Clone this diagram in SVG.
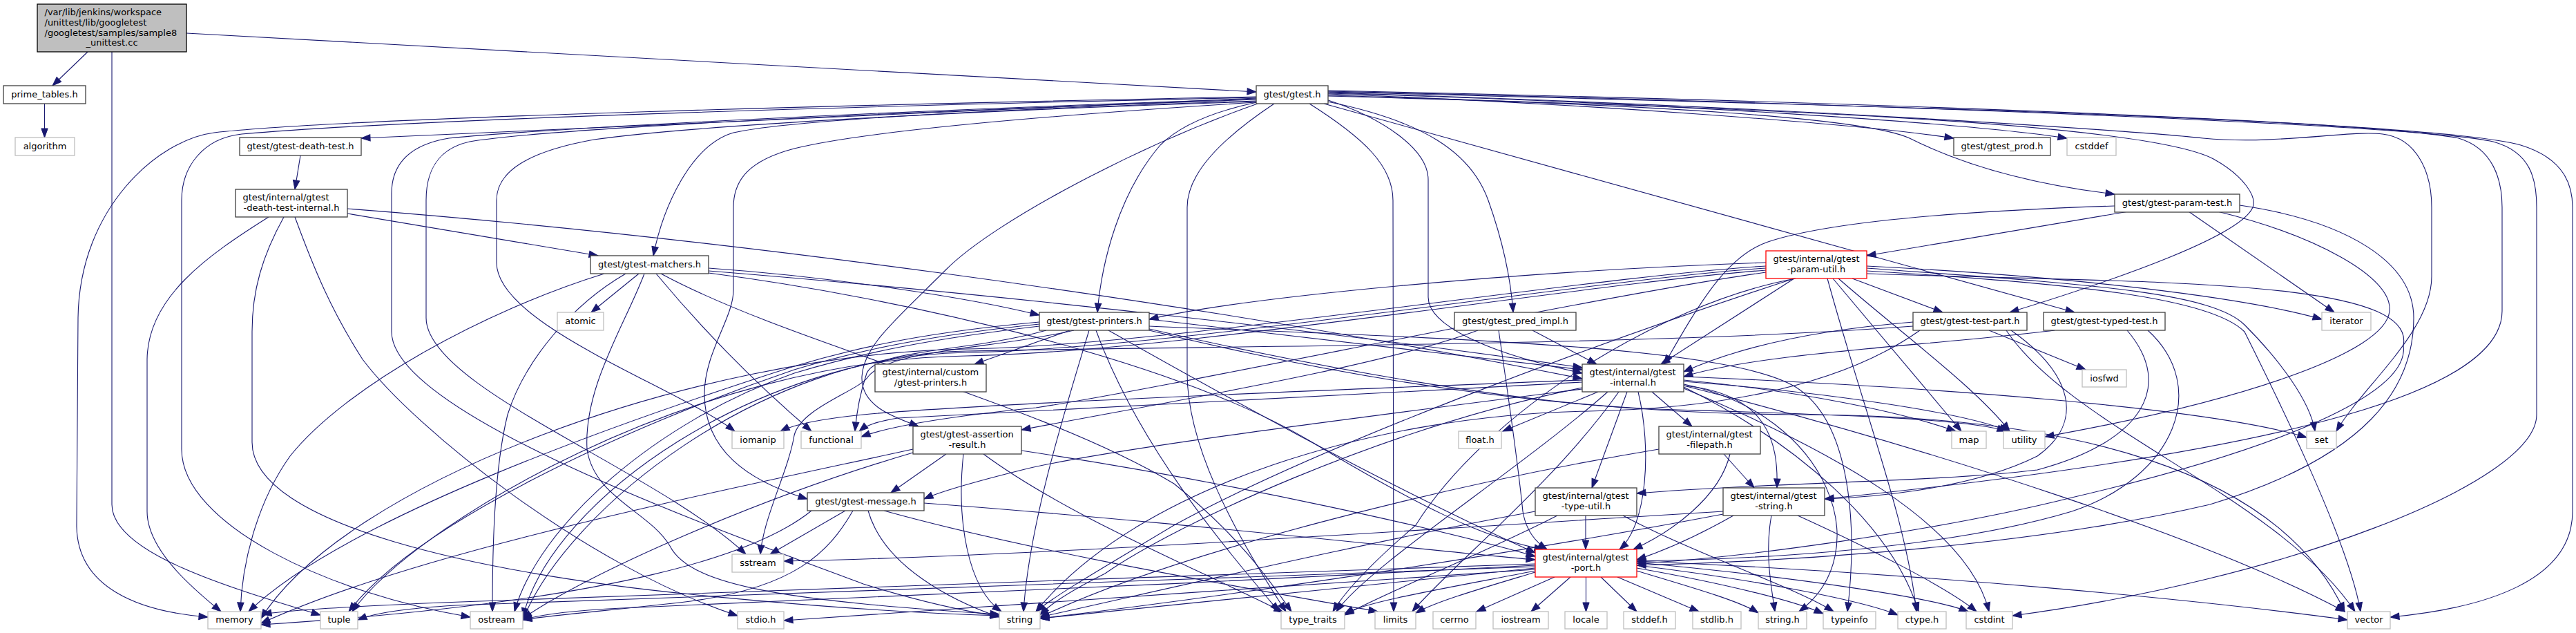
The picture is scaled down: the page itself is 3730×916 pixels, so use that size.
<svg xmlns="http://www.w3.org/2000/svg" width="3730" height="916" viewBox="0 0 3730 916">
<style>
.e path{fill:none;stroke:#191970;stroke-width:1.1}
rect{fill:#fff;stroke:#404040;stroke-width:1.3}
.g rect{stroke:#bfbfbf}
.r rect{stroke:#ff0000}
.m rect{fill:#bfbfbf;stroke:#000}
text{font-family:"DejaVu Sans","Liberation Sans",sans-serif;font-size:13px;fill:#000;text-anchor:middle}
text.l{text-anchor:start}
</style>
<defs>
<marker id="a" markerUnits="userSpaceOnUse" markerWidth="14" markerHeight="10" refX="13" refY="5" orient="auto" overflow="visible"><path d="M0,0.3 L13,5 L0,9.7 z" fill="#191970" stroke="#191970" stroke-width="1"/></marker>
</defs>
<rect x="0" y="0" width="3730" height="916" style="fill:#fff;stroke:none"/>
<g id="edges" class="e" marker-end="url(#a)">
<path d="M127,75 L76,124"/>
<path d="M270,48 L1819,133"/>
<path d="M162,75 L162,730 C162,800 330,850 464,890"/>
<path d="M64.5,150 L64.5,199"/>
<path d="M1819,140 C1300,150 500,170 310,192 C230,202 115,300 113,460 L111,760 C111,850 200,885 301,893"/>
<path d="M1819,141 C1300,152 600,172 350,194 C295,200 263,240 263,290 L263,650 C263,760 480,860 681,893"/>
<path d="M1819,142 L523,200"/>
<path d="M1819,143 C1300,160 800,185 650,200 C590,210 567,240 567,280 L567,480 C567,600 1050,770 1250,845 C1330,870 1400,885 1447,892"/>
<path d="M1819,144 C1300,162 800,185 680,205 C635,215 617,245 617,290 L617,460 C617,560 950,680 1080,802"/>
<path d="M1819,146 C1500,156 1150,172 1062,192 C1000,210 960,300 946,370"/>
<path d="M1819,147 C1400,160 1000,182 860,202 C760,220 719,250 719,290 L719,380 C719,470 980,560 1064,624"/>
<path d="M1819,148 C1500,168 1250,190 1150,215 C1085,232 1062,260 1062,300 L1062,420 C1062,460 1020,510 1020,570 C1020,650 1080,695 1169,722"/>
<path d="M1821,150 C1650,210 1440,320 1370,390 C1300,460 1250,500 1248,545 C1246,590 1300,605 1330,617"/>
<path d="M1820,148 C1740,165 1700,190 1680,210 C1620,280 1595,380 1589,452"/>
<path d="M1845,150 C1770,200 1719,250 1719,300 L1719,540 C1719,640 1780,760 1862,885"/>
<path d="M1896,150 C1975,200 2017,240 2017,290 L2018,885"/>
<path d="M1923,145 C2000,170 2068,215 2068,260 L2068,430 C2068,470 2150,510 2291,540"/>
<path d="M1922,147 C2060,175 2130,220 2155,290 C2180,360 2188,410 2191,452"/>
<path d="M1917,150 L3004,452"/>
<path d="M1923,136 C2300,150 2700,180 2829,200"/>
<path d="M1923,135 C2400,148 2850,178 2993,200"/>
<path d="M1923,138 C2400,152 2700,170 2765,200 C2805,220 2900,262 3062,281"/>
<path d="M1923,139 C2500,155 3100,175 3205,230 C3250,255 3268,285 3262,300 C3245,340 3080,400 2910,452"/>
<path d="M1923,134 C2600,155 3100,190 3190,200 C3300,210 3400,188 3450,194 C3500,200 3521,250 3521,300 L3521,400 C3521,480 3420,560 3383,624"/>
<path d="M1923,133 C2600,150 3400,170 3560,200 C3610,215 3623,260 3623,300 L3623,450 C3623,560 3350,650 2642,722"/>
<path d="M1923,132 C2700,150 3500,180 3610,205 C3665,220 3673,260 3673,300 L3673,600 C3673,700 3300,840 2914,891"/>
<path d="M1923,131 C2800,150 3550,180 3650,210 C3715,230 3725,270 3725,300 L3725,740 C3725,840 3600,880 3461,893"/>
<path d="M435,225 L427,274"/>
<path d="M503,309 L866,370"/>
<path d="M503,302 C1000,340 1700,430 2291,548"/>
<path d="M389,314 C300,370 214,430 213,520 L213,740 C213,800 290,860 320,885"/>
<path d="M411,314 C380,370 365,420 365,480 L365,640 C365,760 700,830 1000,860 C1200,880 1350,888 1447,891"/>
<path d="M427,314 C455,390 480,450 525,520 C600,620 850,820 1068,891"/>
<path d="M875,396 C700,450 500,560 420,660 C370,730 350,820 348,885"/>
<path d="M906,396 C830,440 760,520 735,600 C715,680 713,800 713,885"/>
<path d="M925,396 L856,452"/>
<path d="M933,396 C905,470 845,560 850,650 C860,720 940,740 970,790 C1000,850 1150,870 1447,889"/>
<path d="M950,396 C1020,480 1100,560 1175,624"/>
<path d="M957,396 C1150,500 1500,580 1700,700 C1800,780 1845,850 1870,885"/>
<path d="M1026,388 C1200,400 1400,430 1505,456"/>
<path d="M1026,392 C1500,430 2000,490 2291,532"/>
<path d="M1026,395 C1300,430 1700,520 1900,640 C2050,730 2150,780 2235,795"/>
<path d="M1549,478 L1411,527"/>
<path d="M1505,466 C1350,480 1250,500 1150,530 C900,610 500,750 360,885"/>
<path d="M1505,469 C1350,485 1250,505 1150,535 C900,620 600,760 505,885"/>
<path d="M1505,472 C1350,490 1250,510 1150,540 C950,610 780,760 745,885"/>
<path d="M1515,478 C1400,510 1270,505 1255,540 C1245,570 1240,600 1238,624"/>
<path d="M1555,478 C1440,505 1290,505 1257,545 C1245,565 1160,590 1150,630 C1142,680 1105,750 1101,802"/>
<path d="M1577,478 C1540,600 1490,760 1482,885"/>
<path d="M1587,478 C1650,650 1780,800 1852,885"/>
<path d="M1664,472 C2100,490 2500,500 2600,560 C2680,610 2690,760 2675,885"/>
<path d="M1664,476 C1900,530 2200,585 2400,592 C2650,600 2850,605 2905,624"/>
<path d="M1664,478 C2000,560 2300,598 2600,600 C3000,600 3300,680 3395,885"/>
<path d="M1664,462 L2291,535"/>
<path d="M1605,478 C1750,560 2000,700 2223,800"/>
<path d="M2140,478 C2000,530 1700,580 1479,622"/>
<path d="M2219,478 L2312,527"/>
<path d="M2170,478 C2185,580 2200,690 2205,740 C2210,770 2225,785 2240,795"/>
<path d="M3062,298 C2850,305 2650,320 2560,350 C2500,370 2460,440 2410,527"/>
<path d="M3082,306 L2703,370"/>
<path d="M3169,306 L3380,452"/>
<path d="M3211,306 C3350,340 3465,400 3460,450 C3455,510 3250,580 2961,632"/>
<path d="M3243,297 C3400,320 3495,380 3495,460 C3495,560 3430,660 3200,730 C2900,800 2500,815 2370,818"/>
<path d="M2557,380 C2200,392 1800,430 1664,462"/>
<path d="M2557,385 C2300,400 1700,500 1400,505 C1000,512 500,700 378,895"/>
<path d="M2557,388 C2300,405 1700,505 1400,510 C1100,515 800,720 757,893"/>
<path d="M2557,391 C2300,410 1700,510 1400,515 C1000,520 600,760 510,885"/>
<path d="M2557,394 C2300,430 1700,560 1500,590 C1350,605 1280,620 1247,632"/>
<path d="M2598,403 C2300,500 1900,650 1700,760 C1600,820 1530,860 1500,885"/>
<path d="M2600,403 C2400,440 2150,600 2050,760 C1980,820 1945,860 1930,885"/>
<path d="M2654,403 L2840,624"/>
<path d="M2662,403 C2750,480 2860,560 2910,624"/>
<path d="M2646,403 C2700,600 2760,750 2775,885"/>
<path d="M2682,403 L2813,452"/>
<path d="M2703,385 C3000,400 3250,430 3362,462"/>
<path d="M2703,388 C3000,410 3200,420 3250,470 C3300,520 3345,580 3352,624"/>
<path d="M2703,392 C3000,410 3200,430 3250,480 C3290,560 3400,780 3418,885"/>
<path d="M2598,403 L2405,527"/>
<path d="M2703,396 C3100,410 3500,400 3480,500 C3490,570 3300,650 3000,720 C2800,770 2500,810 2370,815"/>
<path d="M2770,466 C2600,480 2500,510 2438,538"/>
<path d="M2770,472 C2400,500 1800,500 1400,508 C1100,512 820,740 757,897"/>
<path d="M2780,478 C2650,570 2450,592 2300,595 C2000,600 1650,700 1500,885"/>
<path d="M2880,478 L3020,535"/>
<path d="M2905,478 C3000,620 3300,720 3410,885"/>
<path d="M2912,478 C3000,540 3020,610 2950,660 C2850,710 2700,720 2642,722"/>
<path d="M2975,478 C2800,500 2550,510 2438,545"/>
<path d="M3080,478 C3150,560 3100,640 2950,680 C2800,698 2560,698 2370,714"/>
<path d="M3110,478 C3200,560 3150,690 3000,740 C2800,800 2500,810 2370,812"/>
<path d="M2314,567 L2176,624"/>
<path d="M2356,567 L2305,706"/>
<path d="M2372,567 C2392,650 2385,760 2345,795"/>
<path d="M2392,567 L2450,617"/>
<path d="M2344,567 C2250,700 2100,820 2045,885"/>
<path d="M2328,567 C2200,680 1980,820 1935,885"/>
<path d="M2291,561 C2000,620 1700,760 1600,830 C1540,860 1515,880 1506,890"/>
<path d="M2291,550 C1900,565 1400,585 1250,600 C1190,606 1150,614 1130,624"/>
<path d="M2291,553 C1900,575 1450,595 1300,605 C1270,610 1255,615 1244,624"/>
<path d="M2291,563 C2000,600 1600,650 1480,680 C1400,700 1360,712 1338,722"/>
<path d="M2438,556 C2650,600 2720,800 2605,885"/>
<path d="M2438,560 C2600,640 2740,760 2778,885"/>
<path d="M2438,562 C2650,650 2850,760 2880,885"/>
<path d="M2438,550 C2600,565 2750,595 2832,624"/>
<path d="M2438,552 C2650,568 2850,598 2908,624"/>
<path d="M2438,545 C2800,560 3200,590 3340,633"/>
<path d="M2438,558 C2800,650 3200,780 3395,885"/>
<path d="M2438,558 C2560,570 2575,640 2573,706"/>
<path d="M1370,657 L1290,713"/>
<path d="M1322,650 C1000,720 600,800 378,902"/>
<path d="M1322,655 C1100,720 850,830 757,895"/>
<path d="M1395,657 C1385,750 1400,850 1450,885"/>
<path d="M1424,657 C1550,750 1750,830 1858,886"/>
<path d="M1479,652 C1800,700 2100,770 2223,805"/>
<path d="M2402,650 C2100,700 1700,800 1506,893"/>
<path d="M2505,657 C2490,720 2420,770 2365,795"/>
<path d="M2496,657 L2540,706"/>
<path d="M1224,739 L1115,802"/>
<path d="M1175,739 C1100,800 900,870 378,904"/>
<path d="M1235,739 C1200,800 1150,850 1000,870 C900,882 800,890 757,897"/>
<path d="M1257,739 C1280,820 1380,870 1447,893"/>
<path d="M1280,739 C1500,800 1800,850 1995,885"/>
<path d="M1338,728 C1700,755 2000,790 2223,810"/>
<path d="M2296,746 L2296,795"/>
<path d="M2223,740 C2000,780 1700,850 1506,893"/>
<path d="M2255,746 C2150,800 2000,860 1947,890"/>
<path d="M2350,746 C2450,800 2600,850 2655,885"/>
<path d="M2565,746 C2555,800 2565,850 2570,885"/>
<path d="M2603,746 C2700,790 2820,850 2862,885"/>
<path d="M2495,740 C2000,770 1500,805 1135,812"/>
<path d="M2495,744 C2200,800 1800,860 1506,895"/>
<path d="M2510,746 C2450,780 2400,800 2370,810"/>
<path d="M2251,835 L2138,885"/>
<path d="M2274,835 L2217,885"/>
<path d="M2296.5,835 L2296.5,885"/>
<path d="M2318,835 L2370,885"/>
<path d="M2342,835 L2460,885"/>
<path d="M2223,828 C2150,850 2080,870 2050,887"/>
<path d="M2223,826 C2100,850 1980,870 1947,888"/>
<path d="M2223,822 C2000,845 1700,875 1506,895"/>
<path d="M2223,818 C1800,840 1200,870 900,880 C820,884 780,890 757,897"/>
<path d="M2223,816 C1700,835 900,860 640,872 C520,877 420,882 380,889"/>
<path d="M2223,820 C1700,840 900,865 660,876 C590,880 540,888 518,897"/>
<path d="M2223,824 C1900,845 1400,880 1135,898"/>
<path d="M2370,826 C2450,850 2520,870 2546,887"/>
<path d="M2370,822 C2500,845 2600,870 2640,888"/>
<path d="M2370,818 C2550,840 2700,870 2748,890"/>
<path d="M2370,814 C2600,835 2800,865 2850,885"/>
<path d="M2370,812 C2800,830 3200,870 3399,897"/>
</g>
<g id="node-main" class="m"><rect x="54" y="6" width="216" height="69"/><text class="l" x="64.5" y="22">/var/lib/jenkins/workspace</text><text class="l" x="64.5" y="37">/unittest/lib/googletest</text><text class="l" x="64.5" y="51.5">/googletest/samples/sample8</text><text x="162" y="66">_unittest.cc</text></g>
<g id="node-prime_tables"><rect x="5" y="124" width="119" height="26"/><text x="64.5" y="141">prime_tables.h</text></g>
<g id="node-algorithm" class="g"><rect x="22" y="199" width="86" height="26"/><text x="65" y="216">algorithm</text></g>
<g id="node-gtest"><rect x="1819" y="124" width="104" height="26"/><text x="1871" y="141">gtest/gtest.h</text></g>
<g id="node-death-test"><rect x="347" y="199" width="176" height="26"/><text x="435" y="216">gtest/gtest-death-test.h</text></g>
<g id="node-death-test-internal"><rect x="341" y="274" width="162" height="40"/><text class="l" x="351.5" y="290">gtest/internal/gtest</text><text x="422" y="305">-death-test-internal.h</text></g>
<g id="node-matchers"><rect x="855" y="370" width="171" height="26"/><text x="940.5" y="387">gtest/gtest-matchers.h</text></g>
<g id="node-atomic" class="g"><rect x="807" y="452" width="67" height="26"/><text x="840.5" y="469">atomic</text></g>
<g id="node-printers"><rect x="1505" y="452" width="159" height="26"/><text x="1584.5" y="469">gtest/gtest-printers.h</text></g>
<g id="node-pred_impl"><rect x="2106" y="452" width="176" height="26"/><text x="2194" y="469">gtest/gtest_pred_impl.h</text></g>
<g id="node-prod"><rect x="2829" y="199" width="140" height="26"/><text x="2899" y="216">gtest/gtest_prod.h</text></g>
<g id="node-cstddef" class="g"><rect x="2993" y="199" width="71" height="26"/><text x="3028.5" y="216">cstddef</text></g>
<g id="node-param-test"><rect x="3062" y="281" width="181" height="26"/><text x="3152.5" y="298">gtest/gtest-param-test.h</text></g>
<g id="node-param-util" class="r"><rect x="2557" y="363" width="146" height="40"/><text class="l" x="2567.5" y="379">gtest/internal/gtest</text><text x="2630" y="394">-param-util.h</text></g>
<g id="node-test-part"><rect x="2770" y="452" width="165" height="26"/><text x="2852.5" y="469">gtest/gtest-test-part.h</text></g>
<g id="node-typed-test"><rect x="2959" y="452" width="176" height="26"/><text x="3047" y="469">gtest/gtest-typed-test.h</text></g>
<g id="node-iterator" class="g"><rect x="3362" y="452" width="71" height="26"/><text x="3397.5" y="469">iterator</text></g>
<g id="node-custom-printers"><rect x="1267" y="527" width="161" height="40"/><text class="l" x="1277.5" y="543">gtest/internal/custom</text><text x="1347.5" y="558">/gtest-printers.h</text></g>
<g id="node-internal"><rect x="2291" y="527" width="147" height="40"/><text class="l" x="2301.5" y="543">gtest/internal/gtest</text><text x="2364.5" y="558">-internal.h</text></g>
<g id="node-iomanip" class="g"><rect x="1060" y="624" width="75" height="25"/><text x="1097.5" y="641">iomanip</text></g>
<g id="node-functional" class="g"><rect x="1160" y="624" width="87" height="25"/><text x="1203.5" y="641">functional</text></g>
<g id="node-float" class="g"><rect x="2112" y="624" width="62" height="25"/><text x="2143" y="641">float.h</text></g>
<g id="node-map" class="g"><rect x="2826" y="624" width="50" height="25"/><text x="2851" y="641">map</text></g>
<g id="node-utility" class="g"><rect x="2901" y="624" width="60" height="25"/><text x="2931" y="641">utility</text></g>
<g id="node-set" class="g"><rect x="3340" y="624" width="43" height="25"/><text x="3361.5" y="641">set</text></g>
<g id="node-iosfwd" class="g"><rect x="3015" y="535" width="64" height="25"/><text x="3047" y="552">iosfwd</text></g>
<g id="node-assertion-result"><rect x="1322" y="617" width="157" height="40"/><text class="l" x="1332.5" y="633">gtest/gtest-assertion</text><text x="1400.5" y="648">-result.h</text></g>
<g id="node-filepath"><rect x="2402" y="617" width="147" height="40"/><text class="l" x="2412.5" y="633">gtest/internal/gtest</text><text x="2475.5" y="648">-filepath.h</text></g>
<g id="node-message"><rect x="1169" y="713" width="169" height="26"/><text x="1253.5" y="730">gtest/gtest-message.h</text></g>
<g id="node-type-util"><rect x="2223" y="706" width="147" height="40"/><text class="l" x="2233.5" y="722">gtest/internal/gtest</text><text x="2296.5" y="737">-type-util.h</text></g>
<g id="node-gtest-string"><rect x="2495" y="706" width="147" height="40"/><text class="l" x="2505.5" y="722">gtest/internal/gtest</text><text x="2568.5" y="737">-string.h</text></g>
<g id="node-sstream" class="g"><rect x="1060" y="802" width="75" height="26"/><text x="1097.5" y="819">sstream</text></g>
<g id="node-port" class="r"><rect x="2223" y="795" width="147" height="40"/><text class="l" x="2233.5" y="811">gtest/internal/gtest</text><text x="2296.5" y="826">-port.h</text></g>
<g id="node-memory" class="g"><rect x="301" y="885" width="77" height="25"/><text x="339.5" y="901">memory</text></g>
<g id="node-tuple" class="g"><rect x="464" y="885" width="54" height="25"/><text x="491" y="901">tuple</text></g>
<g id="node-ostream" class="g"><rect x="681" y="885" width="76" height="25"/><text x="719" y="901">ostream</text></g>
<g id="node-stdio" class="g"><rect x="1068" y="885" width="67" height="25"/><text x="1101.5" y="901">stdio.h</text></g>
<g id="node-string" class="g"><rect x="1447" y="885" width="59" height="25"/><text x="1476.5" y="901">string</text></g>
<g id="node-type_traits" class="g"><rect x="1855" y="885" width="92" height="25"/><text x="1901" y="901">type_traits</text></g>
<g id="node-limits" class="g"><rect x="1991" y="885" width="59" height="25"/><text x="2020.5" y="901">limits</text></g>
<g id="node-cerrno" class="g"><rect x="2075" y="885" width="62" height="25"/><text x="2106" y="901">cerrno</text></g>
<g id="node-iostream" class="g"><rect x="2162" y="885" width="80" height="25"/><text x="2202" y="901">iostream</text></g>
<g id="node-locale" class="g"><rect x="2266" y="885" width="61" height="25"/><text x="2296.5" y="901">locale</text></g>
<g id="node-stddef" class="g"><rect x="2351" y="885" width="75" height="25"/><text x="2388.5" y="901">stddef.h</text></g>
<g id="node-stdlib" class="g"><rect x="2451" y="885" width="70" height="25"/><text x="2486" y="901">stdlib.h</text></g>
<g id="node-string_h" class="g"><rect x="2546" y="885" width="70" height="25"/><text x="2581" y="901">string.h</text></g>
<g id="node-typeinfo" class="g"><rect x="2640" y="885" width="76" height="25"/><text x="2678" y="901">typeinfo</text></g>
<g id="node-ctype" class="g"><rect x="2748" y="885" width="70" height="25"/><text x="2783" y="901">ctype.h</text></g>
<g id="node-cstdint" class="g"><rect x="2847" y="885" width="67" height="25"/><text x="2880.5" y="901">cstdint</text></g>
<g id="node-vector" class="g"><rect x="3399" y="885" width="62" height="25"/><text x="3430" y="901">vector</text></g>
</svg>
